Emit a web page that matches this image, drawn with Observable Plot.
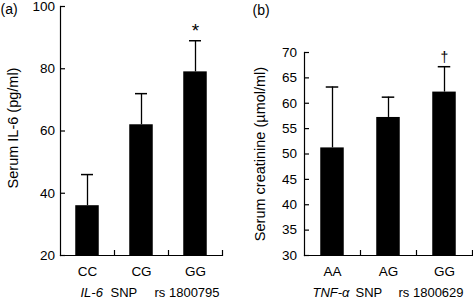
<!DOCTYPE html>
<html><head><meta charset="utf-8">
<script src="https://cdn.jsdelivr.net/npm/d3@7"></script>
<script src="https://cdn.jsdelivr.net/npm/@observablehq/plot@0.6"></script>
<style>
html,body{margin:0;padding:0;background:#fff;}
#wrap{position:relative;width:473px;height:299px;overflow:hidden;background:#fff;}
#a,#b{position:absolute;top:0;}
#a{left:0;}#b{left:240px;}
</style></head><body>
<div id="wrap"><div id="a"></div><div id="b"></div></div>
<script>
// Panel (a): IL-6 SNP rs1800795
const catsA = ["CC", "CG", "GG"];
const meansA = [36, 62, 79];
const errsA = [10, 10, 10];
const marksA = ["", "", "*"];
const ticksA = [20, 40, 60, 80, 100];
const domainA = [20, 100];

// Panel (b): TNF-alpha SNP rs1800629
const catsB = ["AA", "AG", "GG"];
const meansB = [51.2, 57.2, 62.2];
const errsB = [12, 4, 5];
const marksB = ["", "", "\u2020"];
const ticksB = [30, 35, 40, 45, 50, 55, 60, 65, 70];
const domainB = [30, 70];

function panel(o) {
  const data = o.cats.map((c, i) => ({cat: c, mean: o.means[i], upper: o.means[i] + o.errs[i], mark: o.marks[i]}));
  const fw = o.width - o.ml - o.mr, fh = o.height - o.mt - o.mb;
  const bw = fw / o.cats.length;
  const barInset = (bw - o.barWidth) / 2;
  const capInset = (bw - o.capWidth) / 2;
  const xParts = o.xLabelParts.map(p => Plot.text([p.text], {
    text: d => d, frameAnchor: "bottom-left", dx: p.dx, dy: 37,
    textAnchor: "start", lineAnchor: "middle", fontSize: 13,
    fontStyle: p.italic ? "italic" : "normal", fill: "#000"
  }));
  return Plot.plot({
    width: o.width, height: o.height,
    marginTop: o.mt, marginBottom: o.mb, marginLeft: o.ml, marginRight: o.mr,
    style: {fontFamily: "'Liberation Sans', Arial, sans-serif", fontSize: "13.5px", color: "#000", background: "transparent", overflow: "visible"},
    x: {domain: o.cats, padding: 0},
    y: {domain: o.domain},
    marks: [
      Plot.barY(data, {x: "cat", y1: o.domain[0], y2: "mean", fill: "#000", insetLeft: barInset, insetRight: barInset}),
      Plot.ruleX(data, {x: "cat", y1: "mean", y2: "upper", stroke: "#000", strokeWidth: 1.3}),
      Plot.tickY(data, {x: "cat", y: "upper", stroke: "#000", strokeWidth: 1.5, insetLeft: capInset, insetRight: capInset}),
      Plot.text(data, {x: "cat", y: "upper", text: "mark", lineAnchor: "bottom", dy: o.markDy, fontSize: o.markSize, fill: "#000"}),
      Plot.tickY(o.ticks, {y: d => d, stroke: "#000", strokeWidth: 1.2, insetRight: fw - 5}),
      Plot.tickX(o.cats, {x: d => d, dx: bw / 2, stroke: "#000", strokeWidth: 1.2, insetTop: fh - 5}),
      Plot.axisY({ticks: o.ticks, tickSize: 0, tickPadding: o.tickPad, label: null}),
      Plot.axisX({tickSize: 0, tickPadding: 10.5, label: null}),
      Plot.frame({anchor: "left", stroke: "#000", strokeWidth: 1.2}),
      Plot.frame({anchor: "bottom", stroke: "#000", strokeWidth: 1.2}),
      Plot.text([o.yLabel], {text: d => d, frameAnchor: "left", rotate: -90, dx: o.yLabelDx, dy: o.yLabelDy, fontSize: 14.5, textAnchor: "middle", lineAnchor: "middle", fill: "#000"}),
      Plot.text([o.panelLabel], {text: d => d, frameAnchor: "top-left", dx: o.panelDx, dy: o.panelDy, fontSize: 14, textAnchor: "start", lineAnchor: "middle", fill: "#000"}),
      ...xParts
    ]
  });
}

document.getElementById("a").appendChild(panel({
  cats: catsA, means: meansA, errs: errsA, marks: marksA, ticks: ticksA, domain: domainA,
  width: 240, height: 299, mt: 6, mb: 44, ml: 60, mr: 18,
  barWidth: 23.5, capWidth: 12, markDy: -4, markSize: 19, tickPad: 5.5,
  yLabel: "Serum IL-6 (pg/ml)", yLabelDx: -47, yLabelDy: -3,
  panelLabel: "(a)", panelDx: -60, panelDy: 3,
  xLabelParts: [{text: "IL-6", dx: 20, italic: true}, {text: "SNP", dx: 50}, {text: "rs 1800795", dx: 94}]
}));

document.getElementById("b").appendChild(panel({
  cats: catsB, means: meansB, errs: errsB, marks: marksB, ticks: ticksB, domain: domainB,
  width: 233, height: 299, mt: 52, mb: 44, ml: 64, mr: 1,
  barWidth: 23.5, capWidth: 12.5, markDy: -5, markSize: 14, tickPad: 7.5,
  yLabel: "Serum creatinine (\u00b5mol/ml)", yLabelDx: -44, yLabelDy: 0,
  panelLabel: "(b)", panelDx: -52, panelDy: -42,
  xLabelParts: [{text: "TNF-\u03b1", dx: 8, italic: true}, {text: "SNP", dx: 51}, {text: "rs 1800629", dx: 94}]
}));
</script>
</body></html>
